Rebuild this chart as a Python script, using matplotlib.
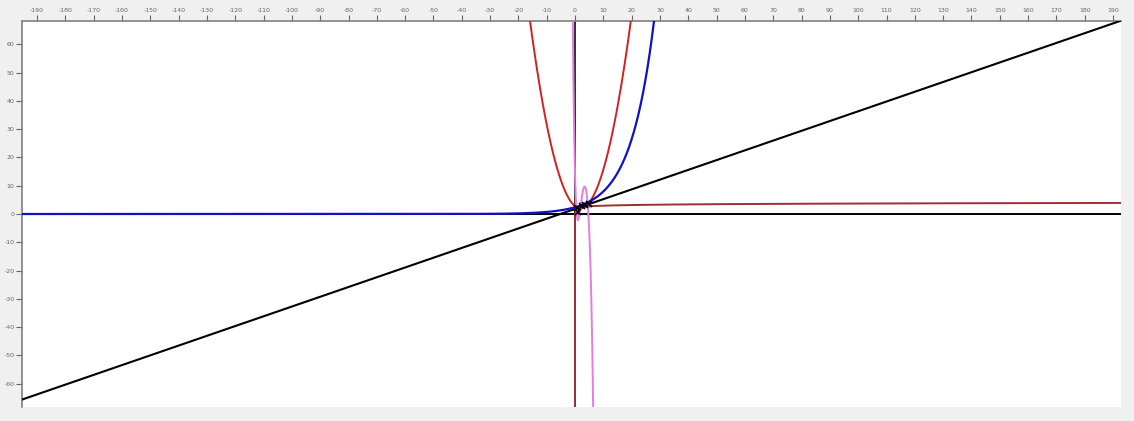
import numpy as np
import matplotlib
matplotlib.use("Agg")
import matplotlib.pyplot as plt

plt.rcParams["axes.unicode_minus"] = False

# sample points (the black crosses)
pts_x = [0.8, 1.2, 2.4, 3.5, 5.0]
pts_y = [2.0, 0.6, 2.9, 3.2, 3.4]

# fitted curves, coefficients
lin_coef = [0.345, 1.8]            # y = m*x + c
quad_coef = [0.209, -0.794, 2.75]  # y = a*x^2 + b*x + c
exp_coef = [2.4, 0.12]             # y = A*exp(B*x)
log_coef = [2.18, 0.33]            # y = a + b*ln(x)
# quintic: k*(x-r1)(x-r2)(x-r3)*((x-p)^2+q2)
poly_k = -0.0708
poly_roots = [0.6, 1.6, 4.7]
poly_pq = [5.0, 18.33]

xlim = (-195.3, 192.8)
ylim = (-68.2, 68.2)
xticks = list(range(-190, 191, 10))
yticks = list(range(-60, 61, 10))

W, H = 1134, 421
fig = plt.figure(figsize=(W / 100, H / 100), dpi=100)
fig.patch.set_facecolor("#f0f0f0")
ax = fig.add_axes([22 / W, (H - 407) / H, (1121 - 22) / W, (407 - 21) / H])
ax.set_facecolor("white")
ax.set_xlim(*xlim)
ax.set_ylim(*ylim)

for side in ("right", "bottom"):
    ax.spines[side].set_visible(False)
for side in ("left", "top"):
    ax.spines[side].set_color("#808080")
    ax.spines[side].set_linewidth(1.2)

ax.xaxis.tick_top()
ax.set_xticks(xticks)
ax.set_yticks(yticks)
ax.tick_params(axis="both", labelsize=4.5, colors="#666666", length=4,
               width=0.8, direction="out", pad=1.5)

# coordinate axes
ax.axhline(0, color="black", lw=1.4, zorder=1)
ax.axvline(0, color="#303030", lw=1.4, zorder=1)

x = np.linspace(xlim[0], xlim[1], 6000)

ax.plot(x, np.polyval(lin_coef, x), color="black", lw=1.5, zorder=3)
ax.plot(x, np.polyval(quad_coef, x), color="#d42020", lw=1.4, zorder=3)
ax.plot(x, exp_coef[0] * np.exp(exp_coef[1] * x), color="#1010c8", lw=1.6, zorder=4)

# log curve: first sample sits right at the origin so the line drops off the bottom
xl = np.concatenate([[1e-200], np.linspace(1e-3, xlim[1], 4000)])
yl = log_coef[0] + log_coef[1] * np.log(xl)
yl[0] = ylim[0] - 10
ax.plot(xl, yl, color="#9b3030", lw=1.4, zorder=3)

xp = np.linspace(-2, 8, 3000)
yp = poly_k * np.ones_like(xp)
for r in poly_roots:
    yp = yp * (xp - r)
yp = yp * ((xp - poly_pq[0]) ** 2 + poly_pq[1])
ax.plot(xp, yp, color="#e27ee2", lw=1.4, zorder=3)

ax.plot(pts_x, pts_y, "x", color="black", ms=4, mew=1.2, zorder=5)

fig.savefig("out.png", dpi=100, facecolor=fig.get_facecolor())
